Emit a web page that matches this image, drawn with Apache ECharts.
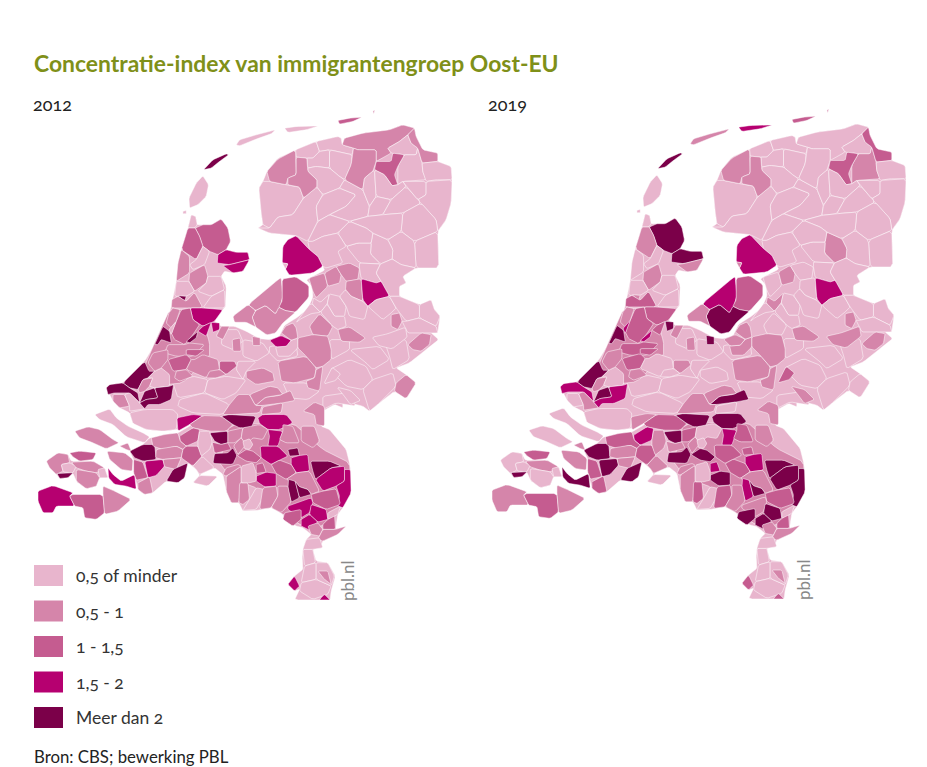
<!DOCTYPE html>
<html>
<head>
<meta charset="utf-8">
<script src="https://cdn.jsdelivr.net/npm/echarts@6/dist/echarts.min.js"></script>
<style>
  html, body { margin: 0; background: #fff; }
  #chart { width: 927px; height: 767px; }
  text { font-feature-settings: "onum"; }
</style>
</head>
<body>
<div id="chart"></div>
<script>
const classLabels = ['0,5 of minder', '0,5 - 1', '1 - 1,5', '1,5 - 2', 'Meer dan 2']
const classColors = ['#E8B5CD', '#D585AA', '#C55C90', '#B60070', '#7B0049']
const years = ['2012', '2019']

// map outline, drawn first: whatever has no own region reads as lowest class
const outline = '475,385 485,345 498,350 503,375 520,375 545,375 575,358 595,385 603,425 590,450 620,458 655,458 660,480 640,515 610,520 585,515 575,530 590,560 588,620 580,630 555,665 575,680 615,680 650,695 690,717 720,720 748,712 765,677 805,652 835,627 850,592 848,560 830,540 885,512 880,500 865,470 840,450 800,408 770,405 720,400 685,385 700,375 695,340 688,265 700,245 712,215 745,175 800,150 860,125 925,110 935,115 938,135 945,115 1000,100 1080,90 1120,75 1155,85 1160,110 1180,150 1225,160 1225,185 1265,200 1268,250 1265,310 1250,360 1225,395 1228,505 1160,505 1120,530 1130,550 1110,560 1110,590 1170,615 1205,600 1215,630 1232,650 1225,700 1205,700 1228,720 1190,750 1140,790 1100,805 1130,825 1160,850 1130,898 1095,875 1050,910 1020,935 1000,920 940,905 940,925 915,915 880,935 875,980 900,990 925,1020 950,1050 960,1090 963,1110 965,1180 940,1225 925,1245 918,1290 950,1280 925,1305 880,1325 875,1340 850,1350 860,1385 895,1390 918,1430 905,1475 902,1502 795,1502 810,1470 795,1475 775,1455 795,1430 820,1410 818,1375 820,1350 830,1320 845,1305 820,1285 800,1280 770,1260 755,1240 725,1225 680,1233 640,1235 628,1210 605,1210 590,1175 580,1125 555,1105 510,1125 535,1160 490,1150 510,1128 500,1110 475,1090 445,1150 410,1145 370,1180 345,1185 325,1170 320,1150 315,1125 312,1080 300,1055 340,1035 360,1015 400,1010 445,1000 480,980 500,960 485,965 465,980 440,990 400,995 350,990 310,970 300,940 270,925 250,905 230,865 240,855 280,850 345,785 375,735 410,670 425,620 440,545 455,450'

// regions, in 3x zoom units; north y as is
const ringsNorth = {
  n1: '522,210 550,180 590,162 597,165 570,185 545,205',
  n2: '480,325 478,295 500,250 520,228 537,255 530,290 505,315',
  n3: '460,335 470,332 470,342 460,342',
  n4: '620,135 630,120 680,105 738,90 725,102 680,118 630,138',
  n5: '765,85 800,80 868,78 830,90 775,98',
  n6: '925,62 960,55 998,52 970,65 930,73',
  n7: '1030,35 1036,30 1033,42',
  n10: '798,150 860,125 870,155 850,175 832,175 800,172',
  n11: '860,125 925,110 935,115 938,135 972,145 968,165 900,150 870,155',
  n12: '832,175 850,175 870,155 900,150 900,205 860,200 835,205',
  n13: '900,150 968,165 965,195 945,240 930,230 900,205',
  n14: '862,240 835,215 835,205 860,200 900,205 930,230 945,240 930,265 880,285 862,262',
  n15: '688,265 700,245 720,245 770,255 810,262 822,295 790,345 745,352 720,385 700,375 695,340',
  n16: '790,345 822,295 862,262 880,285 860,320 865,365 835,425 800,408 770,405 720,400 685,385 720,385 745,352',
  n17: '880,285 930,265 980,285 950,320 900,345 865,365 860,320',
  n18: '930,265 945,240 1000,270 1020,320 1015,350 960,365 930,355 900,345 950,320 980,285',
  n19: '835,425 865,365 900,345 930,355 960,365 925,400 880,410 850,425',
  n8: '720,245 712,215 745,178 798,150 800,225 775,235 770,255',
  n9: '800,172 832,175 835,215 862,240 862,262 822,295 810,262 775,255 775,235 800,225',
  n20: '945,115 1000,100 1080,90 1120,75 1155,85 1135,105 1110,125 1075,145 1085,160 1040,185 1040,150 985,150 972,145 938,135',
  n21: '972,145 985,150 1040,150 1040,185 1030,215 1005,235 1000,270 945,240 965,195',
  n23: '1075,145 1110,125 1135,105 1145,130 1165,145 1160,165 1125,165 1085,160',
  n25: '1125,165 1160,165 1165,145 1178,190 1180,215 1190,240 1120,245 1105,255 1105,200',
  n22: '1035,210 1040,185 1085,185 1090,160 1125,165 1105,200 1095,225 1105,255 1088,258 1065,225',
  n24: '1135,105 1155,85 1160,110 1180,150 1225,160 1225,185 1178,190 1165,145 1145,130',
  n26: '1178,190 1225,185 1265,200 1268,240 1220,240 1190,245 1180,215',
  n27: '1000,270 1005,235 1035,210 1040,290 1020,320',
  n28: '1035,210 1065,225 1088,258 1105,255 1120,245 1130,260 1085,300 1040,290',
  n29: '1040,290 1085,300 1060,345 1015,350 1020,320',
  n30: '1085,300 1130,260 1175,310 1120,340 1060,345',
  n31: '1130,258 1120,245 1190,245 1190,285 1165,300',
  n32: '1190,245 1268,240 1265,310 1250,360 1225,395 1220,360 1165,300 1190,285',
  n33: '1120,340 1175,310 1220,360 1225,395 1155,425 1115,395',
  n34: '1155,425 1225,395 1228,505 1160,505',
  n35: '1075,420 1115,395 1155,425 1160,505 1115,495 1088,478 1090,450',
  n36: '1025,430 1030,400 1075,420 1090,450 1088,478 1053,493 1023,463',
  n37: '950,440 985,430 1025,430 1023,463 1053,493 990,490',
  n38: '1015,350 1060,345 1120,340 1115,395 1075,420 1030,400 1010,385 960,365',
  n39: '925,400 960,365 1010,385 1030,400 1025,430 985,430 950,440',
  n40: '835,425 850,425 880,410 925,400 950,440 925,455 940,490 890,505 880,500 865,470 840,450',
  n41: '760,440 775,420 800,408 840,450 865,470 880,500 850,520 780,527 768,508 775,492 758,490',
  n42: '758,490 775,492 768,508',
  n43: '656,615 748,538 755,535 760,590 752,620 738,643 708,618 678,633',
  n44: '758,538 798,531 838,558 838,593 798,638 768,633 748,623 758,603',
  n45: '668,653 678,633 708,618 738,643 748,623 768,633 798,638 760,670 738,700 712,706 678,682',
  n46: '610,650 656,615 678,633 668,653 678,682 650,668 615,668',
  n47: '838,535 885,520 895,560 860,595 850,575',
  n48: '885,520 920,500 935,525 930,550 895,560',
  n49: '920,500 960,490 990,505 985,540 950,545 935,525',
  n51: '950,545 995,537 1000,605 965,590 948,570',
  n52: '990,490 1053,493 1040,520 1055,545 1040,550 995,537 990,505',
  n53: '1053,493 1088,478 1115,495 1160,505 1120,530 1130,550 1110,560 1110,590 1080,590 1055,545 1040,520',
  n50: '995,537 1040,550 1055,545 1080,590 1040,600 1015,620 1000,600',
  n55: '840,615 848,613 873,638 845,642 815,657 800,668',
  n54: '852,595 873,608 900,583 893,613 873,638 848,613',
  n59: '893,613 900,583 930,590 950,620 945,650 915,650',
  n60: '873,638 893,613 915,650 945,650 950,680 925,690 910,680',
  n61: '948,570 965,590 1000,605 1015,620 1005,660 960,650 950,620 930,590',
  n62: '1015,620 1040,600 1080,590 1100,625 1085,640 1060,660',
  n63: '1110,590 1170,615 1170,655 1130,665 1100,625 1080,590',
  n64: '1170,615 1205,600 1215,630 1232,650 1220,680 1170,655',
  n66: '1118,665 1130,665 1170,655 1220,680 1225,700 1175,700 1135,700',
  n68: '1028,713 1073,703 1128,683 1133,713 1088,748 1048,738',
  n65: '1085,645 1110,640 1118,665 1105,690 1085,680',
  n67: '1135,735 1175,700 1205,705 1200,735 1175,755 1150,750',
  n69: '925,690 960,682 1008,715 990,728 935,725',
  n56: '840,680 870,642 910,680 895,710 850,705',
  n96: '738,742 770,740 785,722 805,715 805,745 780,770 745,770',
  n57: '720,722 755,708 785,722 770,740 740,742',
  n58: '755,700 768,680 790,670 800,685 805,715 785,722',
  n71: '475,385 485,345 498,350 503,375 495,385',
  n72: '497,385 520,375 545,375 575,358 595,385 603,425 590,450 565,465 540,455 520,440 510,410',
  n73: '475,385 497,385 510,410 520,440 500,480 455,450',
  n74: '565,465 590,450 620,458 655,458 660,480 600,495 563,490',
  n75: '580,498 600,495 660,480 640,515 610,520',
  n76: '500,480 520,440 540,455 525,495 490,510 480,495',
  n77: '455,450 480,470 480,520 440,545 445,490',
  n78: '480,520 525,495 535,530 530,550 495,575 478,545',
  n79: '535,530 575,530 585,570 545,590 505,575 530,550',
  n80: '545,590 585,570 587,625 520,625',
  n81: '440,545 478,545 495,575 470,590 435,590',
  n82: '445,588 470,590 465,605',
  n83: '427,600 445,590 470,605 495,578 520,625 425,625',
  n84: '482,625 520,625 580,630 555,665 520,680 490,660',
  n85: '455,630 482,625 490,660 510,675 490,705 465,735 435,720 425,700',
  n86: '410,670 418,640 430,625 452,630 440,665 425,685',
  n88: '418,690 440,665 425,705',
  n87: '375,735 400,680 420,695 425,730 410,725 395,720 385,735',
  n89: '520,680 545,668 530,710 505,695',
  n90: '470,725 505,695 500,715 480,730',
  n91: '545,668 570,670 570,690 550,698',
  n94: '575,680 600,680 590,700 580,720 560,710',
  n92: '608,720 632,715 635,755 610,755',
  n93: '668,710 692,715 692,738 670,738',
  n95: '415,735 465,735 480,730 525,735 490,770 440,770 405,760'
}

// south part, y counted from the middle of the map
const ringsSouth = {
  e1: '580,-60 625,-60 640,-25 610,0 575,-15',
  e2: '640,-30 700,-20 720,10 680,35 640,20',
  e3: '720,-10 800,-15 805,20 745,35 720,10',
  e4: '625,35 680,35 650,65 640,90 620,60',
  e5: '430,100 490,80 535,90 525,130 445,145',
  e6: '535,90 590,80 650,90 620,130 580,150 525,130',
  e7: '450,150 525,130 600,165 580,195 490,190 445,170',
  e8: '900,60 960,30 1010,50 1030,90 1000,120 950,110',
  e9: '960,0 1050,-10 1080,30 1030,60 1010,40',
  e10: '1030,90 1090,70 1100,110 1050,160 1020,185 1000,120',
  e11: '880,140 950,130 980,170 920,160 880,180',
  e12: '1060,-40 1130,-30 1140,30 1090,60 1080,20',
  e13: '760,100 830,100 870,125 835,150 780,145',
  e14: '900,-30 960,-30 960,0 905,30',
  e16: '820,600 850,600 858,640 825,650',
  e17: '825,650 860,640 860,690 815,700',
  e18: '860,690 905,710 895,735 850,750 810,725 815,700',
  e19: '860,640 895,640 915,680 905,710 860,690',
  e20: '50,335 85,310 115,315 125,335 190,335 225,355 235,385 210,385 200,410 170,418 140,395 130,372 115,385 90,387 80,375 60,355',
  e21: '600,225 790,220 880,300 960,340 965,430 930,480 880,530 820,530 770,500 725,475 680,415 640,400 600,380 570,340',
  e22: '420,-120 510,-120 540,-20 540,20 460,100 360,110 345,50 375,-20',
  s1: '280,100 345,35 358,65 375,65 355,85 340,90 325,120 300,115',
  s2: '230,115 240,105 280,100 300,115 325,130 330,160 300,130 255,130 235,135',
  s5: '250,135 285,135 300,170 270,175 250,155',
  s6: '285,135 300,130 330,160 345,178 300,185 300,170',
  s7: '325,120 340,90 370,85 360,110 345,125 330,130',
  s8: '355,85 375,65 395,55 420,75 420,110 375,115 360,110 370,85',
  s3: '345,125 375,115 385,145 350,150 330,160',
  s4: '375,115 420,110 432,105 425,150 390,165 355,165 345,178 330,160 350,150 385,145',
  s9: '195,195 240,178 260,205 295,230 340,250 360,262 345,280 290,262 250,225 210,210',
  s10: '300,190 345,180 430,180 445,195 440,240 400,245 350,240 310,222',
  s11: '135,245 175,232 210,240 250,270 268,280 230,298 190,280 150,265',
  s12: '270,290 295,280 305,305 290,300',
  s13: '300,305 340,285 375,285 380,330 340,335 315,325',
  s14: '345,335 400,330 405,350 380,378 355,385',
  s15: '312,330 340,338 355,385 320,392 312,370',
  s16: '325,400 360,382 370,430 345,435 325,420',
  s17: '235,355 250,375 275,395 315,375 320,420 290,410 255,405 237,385',
  s18: '120,310 150,305 200,310 190,330 150,335 130,322',
  s19: '50,335 85,310 115,315 120,340 95,345 100,365 80,375 60,355',
  s20: '95,345 120,340 140,350 130,370 105,368 100,365',
  s21: '82,372 130,370 115,385 90,387',
  s22: '125,338 190,335 225,355 200,370 170,365 140,355',
  s23: '140,360 200,370 210,385 200,410 170,418 140,395',
  s24: '205,360 225,355 235,385 210,385',
  s25: '232,305 285,310 310,330 308,365 275,360 240,330',
  s26: '25,425 70,408 130,430 120,440 135,470 80,470 70,490 40,490 25,455',
  s27: '120,440 130,435 220,435 225,490 200,510 165,505 160,475 135,470',
  s28: '220,435 220,410 255,425 305,450 265,485 225,495',
  s29: '442,205 490,195 520,198 480,225 445,245',
  s30: '520,198 575,200 610,225 590,245 540,245 490,235 480,225',
  s31: '575,200 600,195 680,200 665,235 630,235 610,225',
  s32: '685,205 700,195 770,195 790,220 750,240 715,240 690,222',
  s33: '450,260 490,235 510,240 505,275 470,290 452,275',
  s34: '365,265 405,255 445,250 452,275 470,290 460,300 440,290 400,300 370,290',
  s35: '380,300 440,290 460,300 455,325 400,330 378,325',
  s36: '460,300 470,290 505,290 518,320 490,350 455,325',
  s37: '400,330 455,325 440,360 405,352',
  s38: '410,395 430,360 475,340 465,385 445,400',
  s39: '490,350 518,320 555,355 510,375 500,360',
  s40: '490,400 510,378 565,380 535,410',
  s41: '505,275 510,245 540,245 548,278 540,300 515,320 505,290',
  s42: '540,250 595,245 595,280 575,285 555,275',
  s43: '595,245 640,235 635,265 615,280 595,280',
  s44: '548,278 575,285 595,280 605,300 555,312',
  s45: '555,312 595,310 610,295 622,318 610,345 550,342',
  s46: '612,288 635,265 650,285 625,315',
  s48: '640,235 690,225 715,240 700,270 670,265 650,285 635,265',
  s47: '640,275 660,268 670,285 660,300 645,298',
  s49: '715,240 760,245 745,290 715,290 720,260',
  s50: '760,225 790,230 810,280 770,280 750,270 760,245',
  s51: '692,290 745,290 775,320 750,332 725,345 695,325',
  s52: '622,318 650,300 670,305 695,325 680,340 650,335',
  s53: '775,300 805,295 810,318 780,320',
  s54: '785,325 810,318 835,315 840,365 800,370 785,345',
  s55: '680,380 710,368 740,372 740,410 705,412 680,395',
  s56: '680,345 700,340 710,368 680,372',
  s57: '725,345 750,332 785,345 800,370 770,390 740,372',
  s60: '800,370 840,365 870,425 845,435 835,420 810,412 800,400 770,390',
  s58: '777,390 797,395 810,445 785,458 775,420',
  s59: '797,395 810,412 835,420 845,435 810,445',
  s61: '843,335 900,335 935,350 905,355 858,390 850,365',
  s62: '858,390 905,355 945,350 945,395 920,410 880,425',
  s63: '945,360 963,360 965,430 940,475 925,470 930,440 920,410 945,395',
  s64: '845,435 880,425 920,418 933,465 890,480 850,460',
  s65: '775,470 845,445 850,460 840,490 815,505 775,480',
  s66: '845,465 890,480 895,510 865,518 840,495',
  s67: '765,490 815,480 815,510 790,530 760,510',
  s68: '815,510 840,495 865,518 840,542 815,530',
  s69: '880,525 895,510 915,495 918,540 880,540',
  s70: '895,490 933,470 925,495 895,510',
  s71: '835,530 865,520 880,540 870,560 845,555',
  s72: '880,540 918,540 950,530 925,555 880,575 865,570',
  s73: '830,570 870,565 880,595 850,600 820,600',
  s74: '775,705 795,680 810,710 795,725',
  s75: '875,745 885,735 902,752 870,752',
  s76: '865,665 895,665 905,705 885,690',
  s77: '590,380 635,350 635,400 628,460 605,460 590,425',
  s78: '630,400 655,400 660,450 640,465 628,460',
  s79: '635,350 670,340 680,370 680,395 660,400 635,400',
  s80: '590,355 625,345 635,350 590,380 580,375',
  s81: '640,483 660,450 680,415 705,420 700,445 680,480',
  s82: '700,415 740,410 745,440 725,475 690,480',
  s83: '745,410 775,410 785,458 755,490 725,475 745,440',
  s84: '678,168 708,143 748,138 783,123 796,153 760,160 698,168',
  s85: '600,165 625,135 660,135 678,168 698,168 690,190 610,195 580,195',
  s86: '660,135 720,110 745,115 760,135 708,143 678,168',
  s87: '700,172 760,160 755,190 695,195',
  s88: '650,65 700,55 730,70 735,95 680,105 650,85',
  s89: '745,35 830,20 860,55 855,85 795,100 755,95',
  s90: '805,-35 850,-45 895,-40 905,0 905,30 880,50 860,55 830,20 805,-5',
  s91: '860,60 880,50 870,125 835,115 830,95 855,85',
  s92: '883,103 908,53 933,73 918,93',
  s93: '923,113 963,123 993,153 963,165 943,138',
  s94: '1100,100 1130,75 1160,100 1130,148 1095,125',
  s95: '415,30 470,15 485,30 470,60 430,65',
  s96: '370,10 415,0 415,30 395,55 375,65 355,40',
  s97: '470,0 525,0 500,20 470,15',
  s98: '495,30 520,15 565,30 570,60 530,85 470,60 485,30',
  s99: '440,65 470,60 490,80 450,95 435,85',
  s100: '570,35 615,35 622,50 590,75 570,60',
  s101: '540,65 570,60 590,75 560,85 530,85',
  s102: '820,185 855,158 885,170 885,230 860,225 855,195',
  s103: '815,230 855,230 870,275 850,295 815,275'
}

// concentration index per region, estimated from the class colour
const index2012 = {
  e21:.8,e22:.8,
  n1:2.4,n2:.4,n3:.4,n4:.4,n5:.4,n6:1.2,n7:.8,n8:.8,n9:.8,n10:.4,n11:.4,n12:.4,n13:.4,n14:.4,n15:.4,n16:.4,n17:.4,n18:.4,n19:.4,
  n20:.8,n21:.8,n22:1.2,n23:.4,n24:.8,n25:.4,n26:.4,n27:.4,n28:.4,n29:.4,n30:.4,n31:.4,n32:.4,n33:.4,n34:.4,n35:.4,n36:.4,n37:.4,n38:.4,n39:.4,n40:.4,
  n41:1.8,n42:.4,n43:.8,n44:1.2,n45:.8,n46:.8,n47:.8,n48:.8,n49:.8,n50:1.8,n51:.8,n52:.4,n53:.4,n54:.4,n55:.4,n56:.8,n57:1.8,n58:.8,n59:.4,n60:.4,n61:.4,
  n62:.4,n63:.4,n64:.4,n65:.8,n66:.4,n67:.8,n68:.4,n69:.8,n71:.4,n72:1.2,n73:1.2,n74:1.8,n75:1.8,n76:.4,n77:.8,n78:.8,n79:.4,n80:.4,n81:.4,n82:2.4,n83:.8,
  n84:1.8,n85:1.2,n86:.8,n87:2.4,n88:.4,n89:1.8,n90:2.4,n91:1.8,n92:.8,n93:.8,n94:.8,n95:.8,n96:.4,
  s1:2.4,s2:2.4,s3:2.4,s4:2.4,s5:.8,s6:.4,s7:.8,s8:.4,s9:.4,s10:.4,s11:.8,s12:.8,s13:2.4,s14:1.8,s15:1.2,s16:.8,s17:1.8,s18:1.2,s19:.8,s20:.4,
  s21:2.4,s22:.8,s23:.8,s24:.4,s25:.8,s26:1.8,s27:1.2,s28:.8,s29:1.8,s30:.8,s31:2.4,s32:1.8,s33:1.2,s34:.8,s35:.8,s36:1.2,s37:.8,s38:2.4,s39:.4,s40:.4,
  s41:.4,s42:2.4,s43:.8,s44:1.2,s45:2.4,s46:.8,s47:.4,s48:.8,s49:1.8,s50:.8,s51:1.8,s52:1.2,s53:2.4,s54:1.8,s55:1.8,s56:1.2,s57:1.2,s58:2.4,s59:2.4,s60:.8,
  s61:2.4,s62:1.8,s63:1.8,s64:1.2,s65:1.8,s66:1.8,s67:1.2,s68:1.8,s69:1.2,s70:.4,s71:.8,s72:.8,s73:.4,s74:1.8,s75:1.8,s76:.8,s77:.8,s78:.8,s79:.4,s80:.8,
  s81:.4,s82:.8,s83:.8,s84:.8,s85:.8,s86:.8,s87:.8,s88:.8,s89:.8,s90:.8,s91:.8,s92:.4,s93:.4,s94:.8,s95:1.2,s96:.8,s97:1.2,s98:.8,s99:.8,s100:1.2,s101:.8,s102:.8,s103:.8
}
const index2019 = {
  e21:.8,e22:.8,
  n1:2.4,n2:.4,n3:.4,n4:.8,n5:1.8,n6:1.2,n7:.8,n8:.8,n9:.8,n10:.4,n11:.4,n12:.4,n13:.4,n14:.4,n15:.4,n16:.4,n17:.4,n18:.4,n19:.4,
  n20:.4,n21:.4,n22:1.2,n23:.4,n24:1.2,n25:.8,n26:.4,n27:.4,n28:.4,n29:.4,n30:.4,n31:.4,n32:.4,n33:.4,n34:.4,n35:.4,n36:.8,n37:.4,n38:.4,n39:.4,n40:.4,
  n41:1.8,n42:.8,n43:1.8,n44:1.2,n45:2.4,n46:.8,n47:.4,n48:.8,n49:.4,n50:1.8,n51:.4,n52:.4,n53:.4,n54:.8,n55:.4,n56:.4,n57:.8,n58:.8,n59:.4,n60:.4,n61:.4,
  n62:.4,n63:.4,n64:.4,n65:.8,n66:.4,n67:.8,n68:.8,n69:.8,n71:.4,n72:2.4,n73:.8,n74:2.4,n75:.8,n76:.4,n77:.4,n78:.8,n79:.4,n80:.4,n81:.4,n82:.8,n83:1.2,
  n84:1.2,n85:1.2,n86:.8,n87:2.4,n88:1.8,n89:1.2,n90:1.8,n91:2.4,n92:.8,n93:2.4,n94:.8,n95:1.2,n96:.8,
  s1:2.4,s2:1.8,s3:2.4,s4:1.8,s5:.4,s6:.8,s7:.8,s8:.4,s9:.4,s10:.4,s11:.4,s12:.8,s13:2.4,s14:2.4,s15:1.2,s16:1.2,s17:2.4,s18:1.2,s19:.4,s20:.4,
  s21:2.4,s22:.8,s23:.4,s24:.4,s25:.8,s26:.8,s27:1.2,s28:.8,s29:.8,s30:1.2,s31:2.4,s32:2.4,s33:1.8,s34:1.2,s35:.8,s36:1.2,s37:.8,s38:2.4,s39:.8,s40:.4,
  s41:.8,s42:2.4,s43:1.2,s44:.8,s45:2.4,s46:.8,s47:.4,s48:.4,s49:1.8,s50:1.2,s51:1.2,s52:2.4,s53:1.2,s54:1.8,s55:2.4,s56:1.8,s57:1.2,s58:1.8,s59:2.4,s60:.8,
  s61:2.4,s62:2.4,s63:2.4,s64:1.2,s65:.8,s66:2.4,s67:2.4,s68:2.4,s69:1.2,s70:.4,s71:.8,s72:.8,s73:.4,s74:1.2,s75:1.2,s76:.8,s77:.8,s78:1.2,s79:.4,s80:.8,
  s81:.4,s82:1.2,s83:.8,s84:2.4,s85:.8,s86:.8,s87:.4,s88:.4,s89:.8,s90:.8,s91:.8,s92:1.2,s93:.8,s94:.4,s95:1.2,s96:.8,s97:1.2,s98:.4,s99:.8,s100:.8,s101:.4,s102:.8,s103:.8
}

// soften the hand-read corners a little
const cutCorners = ring => ring.flatMap((p, i) => {
  const q = ring[(i + 1) % ring.length]
  return [
    [p[0] * 0.9 + q[0] * 0.1, p[1] * 0.9 + q[1] * 0.1],
    [p[0] * 0.1 + q[0] * 0.9, p[1] * 0.1 + q[1] * 0.9]
  ]
})
const parseRing = (text, dy) => {
  const ring = text.split(' ').map(p => {
    const [x, y] = p.split(',').map(Number)
    return [x, -(y + dy)]
  })
  return cutCorners(ring)
}
const feature = (name, text, dy) => ({
  type: 'Feature',
  properties: { name },
  geometry: { type: 'Polygon', coordinates: [parseRing(text, dy)] }
})
const features = [
  feature('NL', outline, 0),
  ...Object.keys(ringsSouth).filter(k => k[0] === 'e').map(k => feature(k, ringsSouth[k], 750)),
  ...Object.keys(ringsNorth).map(k => feature(k, ringsNorth[k], 0)),
  ...Object.keys(ringsSouth).filter(k => k[0] !== 'e').map(k => feature(k, ringsSouth[k], 750))
]
const geoJson = { type: 'FeatureCollection', features }
echarts.registerMap('nl2012', geoJson)
echarts.registerMap('nl2019', geoJson)

const seriesData = index => features.map(f => ({
  name: f.properties.name,
  value: index[f.properties.name] ?? 0.4
}))

const makeMap = (year, index, left, top) => ({
  name: year,
  type: 'map',
  map: 'nl' + year,
  aspectScale: 1,
  roam: false,
  silent: true,
  left: left + 8,
  top: top + 10,
  width: 414,
  height: 490,
  label: { show: false },
  emphasis: { disabled: true },
  itemStyle: { borderColor: '#fff', borderWidth: 0.5 },
  data: seriesData(index)
})

const chart = echarts.init(document.getElementById('chart'), null, { renderer: 'svg' })
const font = 'Lato'
const plainText = size => ({ fontFamily: font, fontSize: size, fontWeight: 'normal', color: '#222' })
chart.setOption({
  animation: false,
  backgroundColor: '#fff',
  textStyle: { fontFamily: font },
  title: [
    { text: 'Concentratie-index van immigrantengroep Oost-EU', left: 34, top: 51, padding: 0,
      textStyle: { fontFamily: font, fontSize: 22.9, fontWeight: 'bold', color: '#7F9019' } },
    { text: years[0], left: 33, top: 95, padding: 0, textStyle: plainText(18) },
    { text: years[1], left: 488, top: 95, padding: 0, textStyle: plainText(18) },
    { text: 'Bron: CBS; bewerking PBL', left: 34, top: 748, padding: 0, textStyle: plainText(16.8) }
  ],
  visualMap: {
    type: 'piecewise',
    seriesIndex: [0, 1],
    left: 34,
    top: 565,
    padding: 0,
    orient: 'vertical',
    inverse: true,
    itemWidth: 29,
    itemHeight: 21,
    itemGap: 14.5,
    textGap: 13,
    itemSymbol: 'rect',
    selectedMode: false,
    hoverLink: false,
    textStyle: { fontFamily: font, fontSize: 17.5, color: '#333' },
    pieces: [
      { lte: 0.5, label: classLabels[0], color: classColors[0] },
      { gt: 0.5, lte: 1, label: classLabels[1], color: classColors[1] },
      { gt: 1, lte: 1.5, label: classLabels[2], color: classColors[2] },
      { gt: 1.5, lte: 2, label: classLabels[3], color: classColors[3] },
      { gt: 2, label: classLabels[4], color: classColors[4] }
    ]
  },
  graphic: [
    { type: 'text', rotation: Math.PI / 2, x: 339, y: 601, style: { text: 'pbl.nl', fontFamily: font, fontSize: 17, fill: '#888' } },
    { type: 'text', rotation: Math.PI / 2, x: 795, y: 600, style: { text: 'pbl.nl', fontFamily: font, fontSize: 17, fill: '#888' } }
  ],
  series: [
    makeMap(years[0], index2012, 30, 100),
    makeMap(years[1], index2019, 484, 99)
  ]
})
</script>
</body>
</html>
